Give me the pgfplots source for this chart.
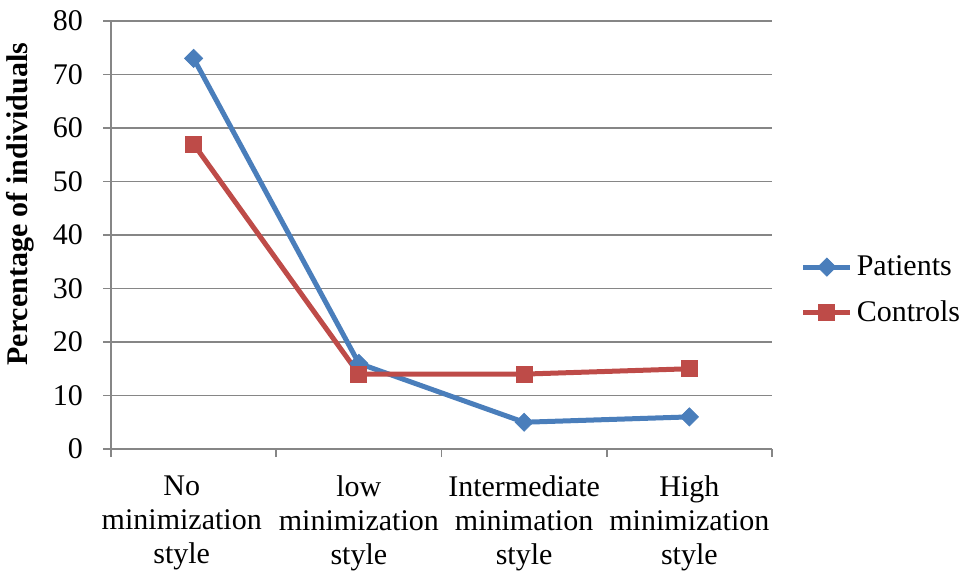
\documentclass[border=0pt]{standalone}
\usepackage{pgfplots}
\pgfplotsset{compat=1.18}
\usepackage{fontspec}
\setmainfont{Liberation Serif}
\definecolor{patblue}{HTML}{4A7EBB}
\definecolor{conred}{HTML}{BE4B48}
\definecolor{gridgray}{HTML}{868686}
\begin{document}
\begin{tikzpicture}
\useasboundingbox (-55.5bp,-68.5bp) rectangle (429.5bp,224.5bp);
\begin{axis}[
  scale only axis, width=330.5bp, height=214bp,
  xmin=-0.5, xmax=3.5, ymin=0, ymax=80,
  axis lines=left,
  axis line style={gridgray, line width=0.8bp, -},
  ymajorgrids, grid style={gridgray, line width=0.8bp},
  tick align=outside,
  tick style={gridgray, line width=0.8bp},
  major tick length=4bp, minor tick length=4bp,
  ytick={0,10,...,80},
  xtick={-0.072,1,2,3},
  xticklabels={{No\\minimization\\style},{low\\minimization\\style},{Intermediate\\minimation\\style},{High\\minimization\\style}},
  major x tick style={draw=none},
  minor xtick={-0.5,0.5,1.5,2.5,3.5},
  /pgf/number format/assume math mode=true,
  xticklabel style={align=center, font=\fontsize{15bp}{17bp}\selectfont, yshift=-6bp},
  yticklabel style={font=\fontsize{15bp}{17bp}\selectfont, xshift=-6.5bp},
  ylabel={\textbf{Percentage of individuals}},
  ylabel style={font=\fontsize{15bp}{17bp}\selectfont, at={(axis description cs:-0.1377,0.572)}, anchor=center},
  legend style={at={(1.043,0.3715)}, anchor=west, draw=none, fill=none,
    font=\fontsize{15bp}{17bp}\selectfont, row sep=7bp, inner sep=0pt},
  legend cell align=left,
  legend image code/.code={\draw[mark repeat=2,mark phase=2,#1] plot coordinates {(0bp,0bp) (11.75bp,0bp) (23.5bp,0bp)};},
]
\addplot[patblue, line width=2.5bp, mark=square*, mark size=3.2bp, mark options={rotate=45, line width=0.4bp}]
  coordinates {(0,73) (1,16) (2,5) (3,6)};
\addplot[conred, line width=2.5bp, mark=square*, mark size=4bp, mark options={line width=0.4bp}]
  coordinates {(0,57) (1,14) (2,14) (3,15)};
\legend{Patients,Controls}
\end{axis}
\end{tikzpicture}
\end{document}
